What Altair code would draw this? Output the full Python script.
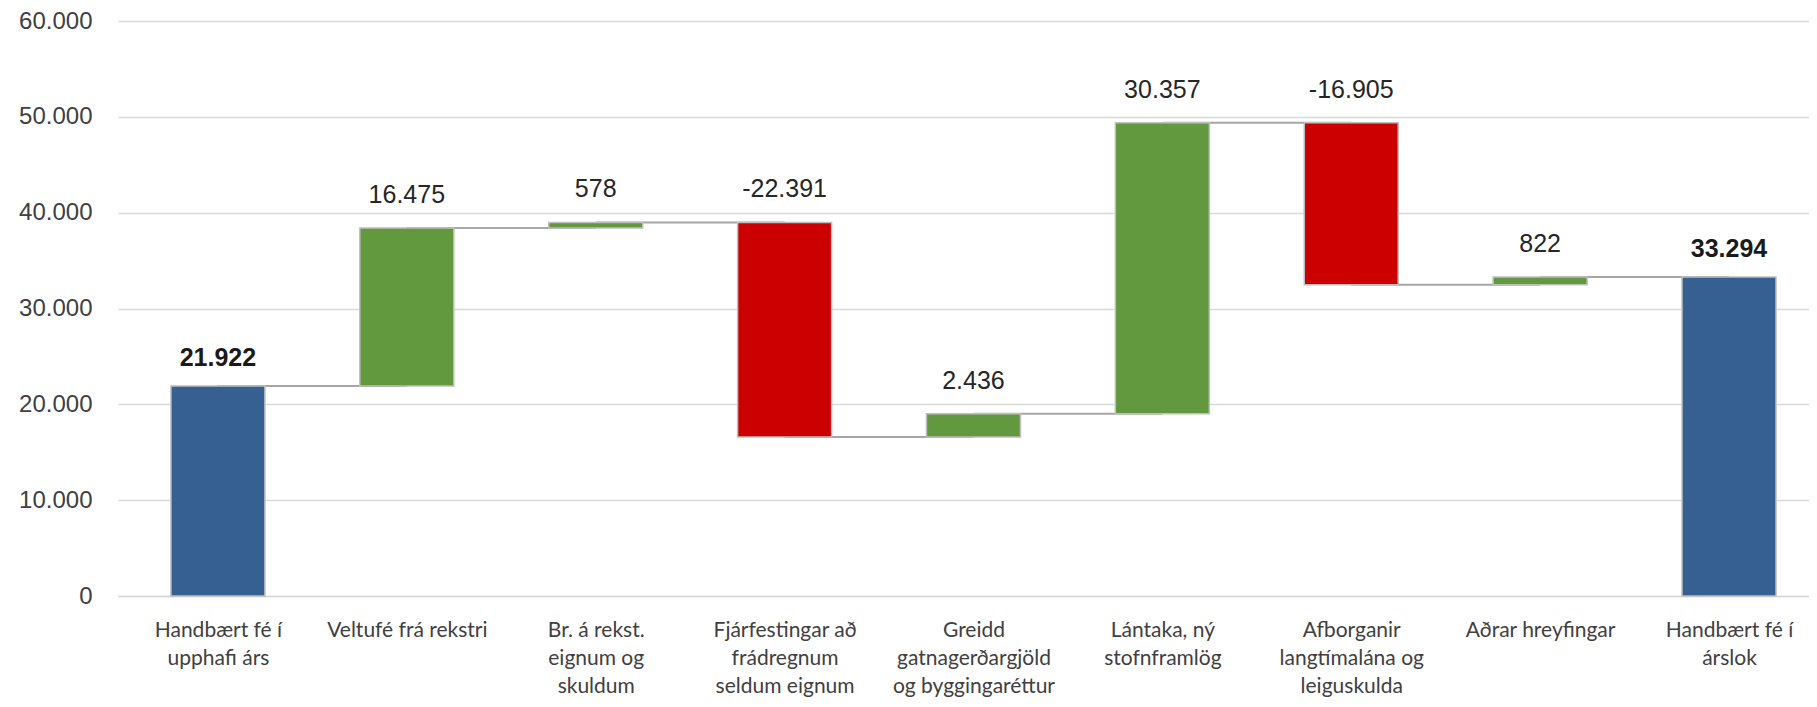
import altair as alt
import pandas as pd

categories = [
    ["Handbært fé í", "upphafi árs"],
    ["Veltufé frá rekstri"],
    ["Br. á rekst.", "eignum og", "skuldum"],
    ["Fjárfestingar að", "frádregnum", "seldum eignum"],
    ["Greidd", "gatnagerðargjöld", "og byggingaréttur"],
    ["Lántaka, ný", "stofnframlög"],
    ["Afborganir", "langtímalána og", "leiguskulda"],
    ["Aðrar hreyfingar"],
    ["Handbært fé í", "árslok"],
]
values = [21922, 16475, 578, -22391, 2436, 30357, -16905, 822, 33294]
kinds = ["total", "delta", "delta", "delta", "delta", "delta", "delta", "delta", "total"]

rows = []
cum = 0
for i, (v, k) in enumerate(zip(values, kinds)):
    if k == "total":
        start, end = 0, v
        col = "total"
    else:
        start, end = cum, cum + v
        col = "up" if v >= 0 else "down"
    cum = end
    rows.append({
        "idx": i,
        "start": start,
        "end": end,
        "top": max(start, end),
        "kind": k,
        "col": col,
        "label": f"{v:,}".replace(",", "."),
        "nxt": i + 1,
    })
df = pd.DataFrame(rows)
conn = df[df["idx"] < len(values) - 1]

label_js = "[" + ",".join(
    "[" + ",".join("'" + s + "'" for s in lines) + "]" for lines in categories
) + "][datum.value]"

xscale = alt.Scale(domain=[-0.5026, 8.397], nice=False, zero=False)
yscale = alt.Scale(domain=[0, 60000], nice=False)

x_axis = alt.Axis(
    values=list(range(len(values))),
    labelExpr=label_js,
    title=None,
    grid=False,
    ticks=False,
    domain=True,
    domainColor="#D9D9D9",
    domainWidth=1.5,
    labelFont="Lato",
    labelFontSize=21,
    labelColor="#404040",
    labelLineHeight=28,
    labelPadding=23,
    labelBaseline="top",
    labelAlign="center",
    labelOverlap=False,
    labelBound=False,
    labelFlush=False,
)
y_axis = alt.Axis(
    values=[0, 10000, 20000, 30000, 40000, 50000, 60000],
    labelExpr="replace(format(datum.value, ','), ',', '.')",
    title=None,
    grid=True,
    gridColor="#D9D9D9",
    gridWidth=1.5,
    ticks=False,
    domain=False,
    labelFont="Liberation Sans",
    labelFontSize=24,
    labelColor="#404040",
    labelPadding=26,
)

base = alt.Chart(df)

connectors = alt.Chart(conn).mark_rule(color="#A6A6A6", strokeWidth=2).encode(
    x=alt.X("idx:Q", scale=xscale, axis=x_axis),
    x2="nxt:Q",
    y=alt.Y("end:Q", scale=yscale, axis=y_axis),
)

bars = base.mark_bar(size=94, stroke="#BFBFBF", strokeWidth=1.5).encode(
    x=alt.X("idx:Q", scale=xscale),
    y=alt.Y("start:Q", scale=yscale),
    y2="end:Q",
    color=alt.Color(
        "col:N",
        scale=alt.Scale(domain=["total", "up", "down"], range=["#366092", "#62993E", "#CC0000"]),
        legend=None,
    ),
)

labels_delta = base.transform_filter("datum.kind == 'delta'").mark_text(
    font="Liberation Sans", fontSize=25, color="#262626", baseline="alphabetic", dy=-25
).encode(
    x=alt.X("idx:Q", scale=xscale),
    y=alt.Y("top:Q", scale=yscale),
    text="label:N",
)

labels_total = base.transform_filter("datum.kind == 'total'").mark_text(
    font="Liberation Sans", fontSize=25, fontWeight="bold", color="#1a1a1a", baseline="alphabetic", dy=-20
).encode(
    x=alt.X("idx:Q", scale=xscale),
    y=alt.Y("top:Q", scale=yscale),
    text="label:N",
)

chart = alt.layer(connectors, bars, labels_delta, labels_total).properties(
    width=1691,
    height=575,
    autosize=alt.AutoSizeParams(type="none"),
    padding={"left": 110, "top": 13, "right": 0, "bottom": 103},
).configure_view(stroke=None)

chart.save("out.html", embed_options={"renderer": "svg", "actions": False})
